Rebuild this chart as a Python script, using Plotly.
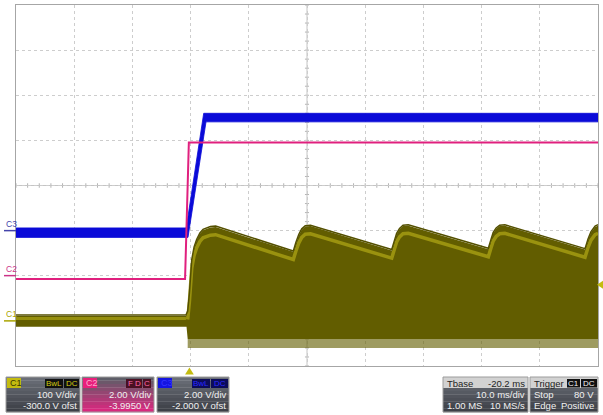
import plotly.graph_objects as go

# ---- acquisition settings -------------------------------------------------
T_LEFT, T_RIGHT = -29.8, 70.2          # ms, trigger at t = 0
C1_VDIV, C1_OFST = 100.0, -300.0       # V/div, V offset
C2_VDIV, C2_OFST = 2.00, -3.995
C3_VDIV, C3_OFST = 2.00, -2.000
TRIG_LEVEL = 80.0                      # V on C1

# ---- C1 (olive): envelope of the switching waveform ------------------------
c1_hi_t = [-29.8, -0.6, -0.3, 0.0, 0.4, 0.8, 1.25, 1.8, 2.34, 3.0, 3.6, 4.5,
           17.85, 18.3, 18.8, 19.3, 19.9, 20.8,
           34.76, 35.2, 35.6, 36.1, 36.7, 37.6,
           51.36, 51.8, 52.2, 52.7, 53.3, 54.2,
           67.97, 68.5, 69.0, 69.7, 70.2]
c1_hi_v = [11, 11, 20, 60, 134, 162, 179, 193, 201, 205, 207, 208,
           153, 172, 190, 202, 209, 210,
           156, 175, 192, 203, 210, 211,
           159, 178, 194, 204, 210, 211,
           158, 180, 196, 208, 211]
c1_lo_t = [-29.8, -0.5, -0.3, 70.2]
c1_lo_v = [-13, -13, -40, -40]
c1_spike_t = [-0.3, 70.2]
c1_spike_v = [-60, -60]

# ---- C2 (pink) ------------------------------------------------------------
c2_t = [-29.8, -0.75, -0.1, 70.2]
c2_v = [-0.15, -0.15, 5.9, 5.9]

# ---- C3 (blue): noise band -------------------------------------------------
c3_hi_t = [-29.8, -0.55, 2.45, 70.2]
c3_hi_v = [0.12, 0.12, 5.2, 5.2]
c3_lo_t = [-29.8, -0.25, 2.85, 70.2]
c3_lo_v = [-0.30, -0.30, 4.82, 4.82]

W, H = 603, 415
PX0, PX1, PY0, PY1 = 16, 598, 5, 366   # plot frame in pixels


def div(v, vdiv, ofst):
    return [(x + ofst) / vdiv for x in v]


def band(t_hi, v_hi, t_lo, v_lo):
    return t_hi + t_lo[::-1], v_hi + v_lo[::-1]


def px(x):
    return x / W


def py(y):
    return 1 - y / H


fig = go.Figure()

OLIVE = "#625d00"
BLUE = "#0a0ad8"
PINK = "#e0207e"

# C1
xs, ys = band(c1_spike_t, [c1_lo_v[-1]] * 2, c1_spike_t, c1_spike_v)
fig.add_trace(go.Scatter(x=xs, y=div(ys, C1_VDIV, C1_OFST), fill="toself",
                         fillcolor="rgba(98,93,0,0.62)", line=dict(width=0),
                         mode="lines", hoverinfo="skip"))
xs, ys = band(c1_hi_t, c1_hi_v, c1_lo_t, c1_lo_v)
fig.add_trace(go.Scatter(x=xs, y=div(ys, C1_VDIV, C1_OFST), fill="toself",
                         fillcolor=OLIVE, line=dict(width=0), mode="lines",
                         hoverinfo="skip"))
# brighter stripe just under the top of the envelope
fig.add_trace(go.Scatter(x=c1_hi_t[2:], y=div([v - 17 for v in c1_hi_v[2:]], C1_VDIV, C1_OFST),
                         mode="lines", line=dict(color="#a49c12", width=3.5),
                         opacity=0.85, hoverinfo="skip"))
fig.add_trace(go.Scatter(x=c1_hi_t[:2], y=div([v - 6 for v in c1_hi_v[:2]], C1_VDIV, C1_OFST),
                         mode="lines", line=dict(color="#a49c12", width=3),
                         opacity=0.8, hoverinfo="skip"))
fig.add_trace(go.Scatter(x=c1_hi_t, y=div([v + 2 for v in c1_hi_v], C1_VDIV, C1_OFST),
                         mode="lines", line=dict(color="#545000", width=1.5),
                         hoverinfo="skip"))

# C3
xs, ys = band(c3_hi_t, c3_hi_v, c3_lo_t, c3_lo_v)
fig.add_trace(go.Scatter(x=xs, y=div(ys, C3_VDIV, C3_OFST), fill="toself",
                         fillcolor=BLUE, line=dict(width=0.8, color=BLUE),
                         mode="lines", hoverinfo="skip"))

# C2
fig.add_trace(go.Scatter(x=c2_t, y=div(c2_v, C2_VDIV, C2_OFST), mode="lines",
                         line=dict(color=PINK, width=2), hoverinfo="skip"))

shapes = []
annotations = []

# minor ticks on the centre cross
t_mid = (T_LEFT + T_RIGHT) / 2
for k in range(-20, 21):
    yv = k * 0.2
    shapes.append(dict(type="line", xref="x", yref="y", x0=t_mid - 0.35, x1=t_mid + 0.35,
                       y0=yv, y1=yv, line=dict(color="#b4b4b4", width=1), layer="below"))
for k in range(0, 51):
    tv = T_LEFT + k * 2
    shapes.append(dict(type="line", xref="x", yref="y", x0=tv, x1=tv,
                       y0=-0.05, y1=0.05, line=dict(color="#b4b4b4", width=1), layer="below"))
shapes.append(dict(type="line", xref="x", yref="y", x0=t_mid, x1=t_mid, y0=-4, y1=4,
                   line=dict(color="#c4c4c4", width=1), layer="below"))
shapes.append(dict(type="line", xref="x", yref="y", x0=T_LEFT, x1=T_RIGHT, y0=0, y1=0,
                   line=dict(color="#c4c4c4", width=1), layer="below"))

# channel ground markers and labels on the left
for name, ofst, vdiv, col in [("C3", C3_OFST, C3_VDIV, "#4444aa"),
                              ("C2", C2_OFST, C2_VDIV, "#cc3388"),
                              ("C1", C1_OFST, C1_VDIV, "#aaa400")]:
    yv = ofst / vdiv
    shapes.append(dict(type="line", xref="paper", yref="y", x0=px(4), x1=px(16),
                       y0=yv, y1=yv, line=dict(color=col, width=1.5)))
    annotations.append(dict(text=name, xref="paper", yref="y", x=px(4), y=yv,
                            xanchor="left", yanchor="bottom", showarrow=False,
                            font=dict(family="Liberation Sans", size=8.5, color=col)))

# trigger level marker (right) and trigger position marker (bottom)
ty = (TRIG_LEVEL + C1_OFST) / C1_VDIV
shapes.append(dict(type="path", xref="paper", yref="y",
                   path=f"M {px(603)},{ty - 0.09} L {px(603)},{ty + 0.09} L {px(597)},{ty} Z",
                   fillcolor="#c4bc10", line=dict(width=0)))
shapes.append(dict(type="path", xref="x", yref="paper",
                   path=f"M -0.75,{py(374.5)} L 0.75,{py(374.5)} L 0,{py(367.5)} Z",
                   fillcolor="#c4bc10", line=dict(width=0)))


def mix(c0, c1, f):
    a = [int(c0[i:i + 2], 16) for i in (1, 3, 5)]
    b = [int(c1[i:i + 2], 16) for i in (1, 3, 5)]
    return "#" + "".join(f"{round(a[i] + (b[i] - a[i]) * f):02x}" for i in range(3))


def grad_rect(x0, y0, x1, y1, ctop, cbot, n=10):
    h = (y1 - y0) / n
    for i in range(n):
        shapes.append(dict(type="rect", xref="paper", yref="paper",
                           x0=px(x0), x1=px(x1), y0=py(y0 + (i + 1) * h + 0.3), y1=py(y0 + i * h),
                           fillcolor=mix(ctop, cbot, i / (n - 1)), line=dict(width=0)))


def rect(x0, y0, x1, y1, fill, line=None):
    shapes.append(dict(type="rect", xref="paper", yref="paper",
                       x0=px(x0), x1=px(x1), y0=py(y1), y1=py(y0), fillcolor=fill,
                       line=dict(width=1, color=line) if line else dict(width=0)))


def text(s, x, y, anchor="right", color="#f0f0f0", size=9.5):
    annotations.append(dict(text=s, xref="paper", yref="paper", x=px(x), y=py(y),
                            xanchor=anchor, yanchor="middle", showarrow=False,
                            font=dict(family="Liberation Sans", size=size, color=color)))


BOX_TOP, BOX_BOT = "#6a6e77", "#3d4047"

# C1 box
grad_rect(6, 377, 80, 412, BOX_TOP, BOX_BOT)
rect(6, 377, 80, 412, "rgba(0,0,0,0)", "#9c9c9c")
rect(7, 378, 21, 388, "#c4bc10")
text("C1", 8, 383, "left", "#3a3600", 9)
rect(45, 379, 63, 388, "#101010")
text("BwL", 54, 383.5, "center", "#d2ca10", 8)
rect(64, 379, 79, 388, "#101010")
text("DC", 71.5, 383.5, "center", "#d2ca10", 8)
text(f"{C1_VDIV:.0f} V/div", 79, 394.5)
text(f"{C1_OFST:.1f} V ofst", 79, 405.5)

# C2 box
grad_rect(82, 377, 154, 412, "#5e5e68", "#d8287e")
rect(82, 377, 154, 412, "rgba(0,0,0,0)", "#9c9c9c")
rect(83, 378, 97, 388, "#e8207c")
text("C2", 84, 383, "left", "#ffa8cc", 9)
for lab, x0 in [("F", 126), ("D", 134), ("C", 143)]:
    rect(x0, 379, x0 + 8, 388, "#4a1022")
    text(lab, x0 + 4, 383.5, "center", "#ff6aa8", 8)
text(f"{C2_VDIV:.2f} V/div", 153, 394.5)
text(f"{C2_OFST:.4f} V", 153, 405.5)

# C3 box
grad_rect(157, 377, 229, 412, BOX_TOP, BOX_BOT)
rect(157, 377, 229, 412, "rgba(0,0,0,0)", "#9c9c9c")
rect(158, 378, 172, 388, "#1414e0")
text("C3", 159, 383, "left", "#3636ff", 9)
rect(192, 379, 210, 388, "#0c0c58")
text("BwL", 201, 383.5, "center", "#2a2aff", 8)
rect(211, 379, 228, 388, "#0c0c58")
text("DC", 219.5, 383.5, "center", "#2a2aff", 8)
text(f"{C3_VDIV:.2f} V/div", 228, 394.5)
text(f"{C3_OFST:.3f} V ofst", 228, 405.5)

# Timebase box
grad_rect(443, 377, 528, 412, BOX_TOP, BOX_BOT)
rect(443, 377, 528, 388, "#d2d2d2")
rect(443, 377, 528, 412, "rgba(0,0,0,0)", "#9c9c9c")
text("Tbase", 445, 383, "left", "#222222")
text("-20.2 ms", 527, 383, "right", "#222222")
text("10.0 ms/div", 527, 394.5)
text("1.00 MS", 445, 405.5, "left")
text("10 MS/s", 527, 405.5)

# Trigger box
grad_rect(530, 377, 598, 412, BOX_TOP, BOX_BOT)
rect(530, 377, 598, 388, "#d2d2d2")
rect(530, 377, 598, 412, "rgba(0,0,0,0)", "#9c9c9c")
text("Trigger", 532, 383, "left", "#222222")
rect(567, 379, 580, 387.5, "#111111")
text("C1", 573.5, 383.3, "center", "#f4f4f4", 8)
rect(581, 379, 597, 387.5, "#111111")
text("DC", 589, 383.3, "center", "#f4f4f4", 8)
text("Stop", 532, 394.5, "left")
text(f"{TRIG_LEVEL:.0f} V", 596, 394.5)
text("Edge", 532, 405.5, "left")
text("Positive", 596, 405.5)

fig.update_layout(
    width=W, height=H, margin=dict(l=0, r=0, t=0, b=0),
    paper_bgcolor="#ffffff", plot_bgcolor="#ffffff", showlegend=False,
    shapes=shapes, annotations=annotations,
    xaxis=dict(domain=[px(PX0), px(PX1)], range=[T_LEFT, T_RIGHT], tick0=T_LEFT, dtick=10,
               showticklabels=False, ticks="", showgrid=True, gridcolor="#cdcdcd",
               griddash="dot", gridwidth=1, zeroline=False, showline=True, mirror=True,
               linecolor="#a6a6a6", linewidth=1, fixedrange=True),
    yaxis=dict(domain=[py(PY1), py(PY0)], range=[-4, 4], dtick=1,
               showticklabels=False, ticks="", showgrid=True, gridcolor="#cdcdcd",
               griddash="dot", gridwidth=1, zeroline=False, showline=True, mirror=True,
               linecolor="#a6a6a6", linewidth=1, fixedrange=True),
)

fig.write_html("out.html")
